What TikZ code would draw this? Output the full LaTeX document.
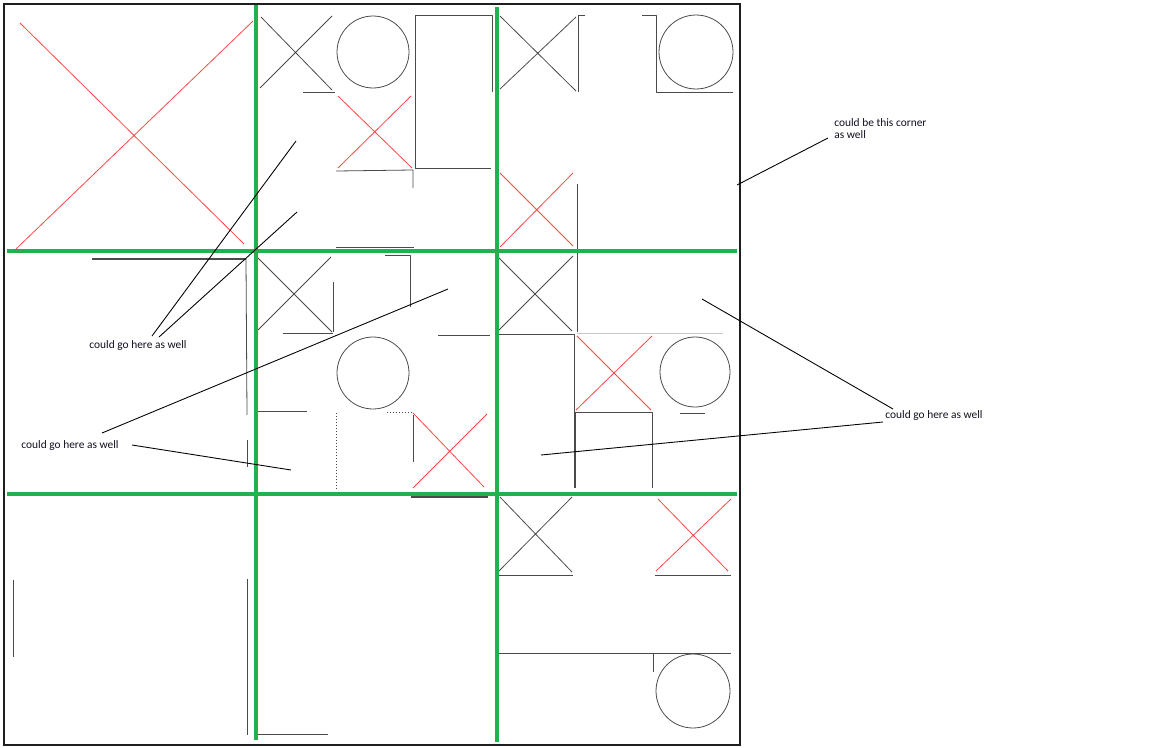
\documentclass[tikz,border=0pt]{standalone}
\usepackage{fontspec}
\setmainfont{Carlito}
\usetikzlibrary{calc}
\definecolor{tttFrame}{HTML}{1E1E1E}
\definecolor{tttGrid}{HTML}{22B14C}
\definecolor{tttPencil}{HTML}{4A4A4A}
\definecolor{tttFaint}{HTML}{C8C8C8}
\definecolor{tttRed}{HTML}{FF4545}
\definecolor{tttInk}{HTML}{101020}
\tikzset{
  ttt frame/.style={draw=tttFrame, line width=1.1pt},
  ttt grid/.style={draw=tttGrid, line width=2pt},
  ttt pencil/.style={draw=tttPencil, line width=.45pt, line join=round},
  ttt dotted/.style={ttt pencil, dash pattern=on .7pt off 1pt},
  ttt faint/.style={draw=tttFaint, line width=.45pt},
  ttt cross/.style={draw=tttRed, line width=.45pt},
  ttt callout/.style={draw=black, line width=.5pt},
  ttt label/.style={font=\fontsize{6.5}{6.8}\selectfont, text=tttInk, inner sep=0pt}
}

\begin{document}
\begin{tikzpicture}[x=.02cm,y=-.02cm]
  \useasboundingbox (0,0) rectangle (1152,747);
  \path[fill=white] (0,0) rectangle (1152,747);
  \draw[ttt frame] (4,4) rectangle (740,745);

  % red crosses
  \draw[ttt cross] (20,23) -- (244,244) (16,249) -- (253,21);
  \draw[ttt cross] (338,96) -- (412,168) (338,168) -- (411,96);
  \draw[ttt cross] (500,173) -- (573,246) (500,247) -- (573,173);
  \draw[ttt cross] (413,413) -- (484,487) (413,488) -- (487,414);
  \draw[ttt cross] (577,336) -- (651,410) (576,410) -- (652,336);
  \draw[ttt cross] (658,499) -- (728,571) (656,571) -- (731,499);

  % pencil crosses and rings
  \draw[ttt pencil] (261,17) -- (332,90) (260,88) -- (332,16);
  \draw[ttt pencil] (500,16) -- (576,91) (500,89) -- (576,17);
  \draw[ttt pencil] (258,258) -- (332,332) (258,330) -- (331,257);
  \draw[ttt pencil] (498,257) -- (572,331) (498,331) -- (573,256);
  \draw[ttt pencil] (500,497) -- (572,572) (498,572) -- (572,497);
  \draw[ttt pencil] (373,52) circle[radius=.72cm];
  \draw[ttt pencil] (696,52) circle[radius=.74cm];
  \draw[ttt pencil] (373,373) circle[radius=.72cm];
  \draw[ttt pencil] (695,372) circle[radius=.7cm];
  \draw[ttt pencil] (693,691) circle[radius=.74cm];

  % pencil boxes
  \draw[ttt pencil] (303,92) -- (335,92);
  \draw[ttt pencil] (415,168) -- (415,15) -- (492,15) -- (492,92);
  \draw[ttt pencil] (415,168) -- (491,168);
  \draw[ttt pencil] (336,171) -- (413,170) -- (413,188);
  \draw[ttt pencil] (336,247) -- (414,247);
  \draw[ttt pencil] (585,15) -- (578,15) -- (578,92);
  \draw[ttt pencil] (642,15) -- (656,15) -- (656,92) -- (733,92);
  \draw[ttt pencil] (577,184) -- (577,248);
  \draw[ttt pencil, line width=.8pt] (92,259) -- (246,259);
  \draw[ttt pencil] (246,259) -- (247,415);
  \draw[ttt pencil] (247,440) -- (247,467);
  \draw[ttt pencil, line width=1pt] (13,493) -- (90,493);
  \draw[ttt pencil] (333,282) -- (333,332) (283,333) -- (333,333);
  \draw[ttt pencil] (385,255) -- (410,255) -- (410,307);
  \draw[ttt pencil] (438,335) -- (490,335);
  \draw[ttt pencil] (258,411) -- (307,411);
  \draw[ttt dotted] (336,413) -- (336,490);
  \draw[ttt dotted] (387,412) -- (413,412);
  \draw[ttt pencil] (413,415) -- (413,462);
  \draw[ttt pencil] (495,440) -- (495,490);
  \draw[ttt pencil] (577,247) -- (577,332);
  \draw[ttt faint] (577,333) -- (723,333);
  \draw[ttt pencil] (498,334) -- (574,334) -- (574,488);
  \draw[ttt pencil] (575,488) -- (575,412) -- (652,412) -- (652,488);
  \draw[ttt pencil] (680,413) -- (705,413);
  \draw[ttt pencil] (496,413) -- (496,488);
  \draw[ttt pencil] (13,580) -- (13,657);
  \draw[ttt pencil] (247,579) -- (247,735);
  \draw[ttt pencil] (254,734) -- (328,734);
  \draw[ttt pencil, line width=1pt] (411,497) -- (488,497);
  \draw[ttt pencil] (498,575) -- (573,575) (655,575) -- (731,575);
  \draw[ttt pencil] (499,653) -- (731,653) (653,653) -- (653,672);

  % grid
  \draw[ttt grid] (256,5) -- (256,740) (497,7) -- (497,742);
  \draw[ttt grid] (7,251) -- (737,251) (7,494) -- (737,494);

  % notes
  \node[ttt label] (hereUpper) at (138,346) {could go here as well};
  \node[ttt label] (hereLower) at (70,446) {could go here as well};
  \node[ttt label] (hereRight) at (934,416) {could go here as well};
  \node[ttt label, align=left, anchor=west] (corner) at (834,129)
    {could be this corner\\as well};

  \coordinate (spotA) at (296,141);
  \coordinate (spotB) at (297,212);
  \coordinate (spotC) at (448,289);
  \coordinate (spotD) at (291,470);
  \coordinate (spotE) at (702,299);
  \coordinate (spotF) at (541,455);
  \coordinate (spotG) at (737,185);
  \draw[ttt callout] ($(hereUpper.center)+(14,-10)$) -- (spotA);
  \draw[ttt callout] ($(hereUpper.center)+(21,-9)$) -- (spotB);
  \draw[ttt callout] ($(hereLower.center)+(32,-13)$) -- (spotC);
  \draw[ttt callout] ($(hereLower.center)+(62,-1)$) -- (spotD);
  \draw[ttt callout] ($(hereRight.center)+(-41,-7)$) -- (spotE);
  \draw[ttt callout] ($(hereRight.center)+(-51,6)$) -- (spotF);
  \draw[ttt callout] ($(corner.west)+(-6,9)$) -- (spotG);
\end{tikzpicture}
\end{document}
